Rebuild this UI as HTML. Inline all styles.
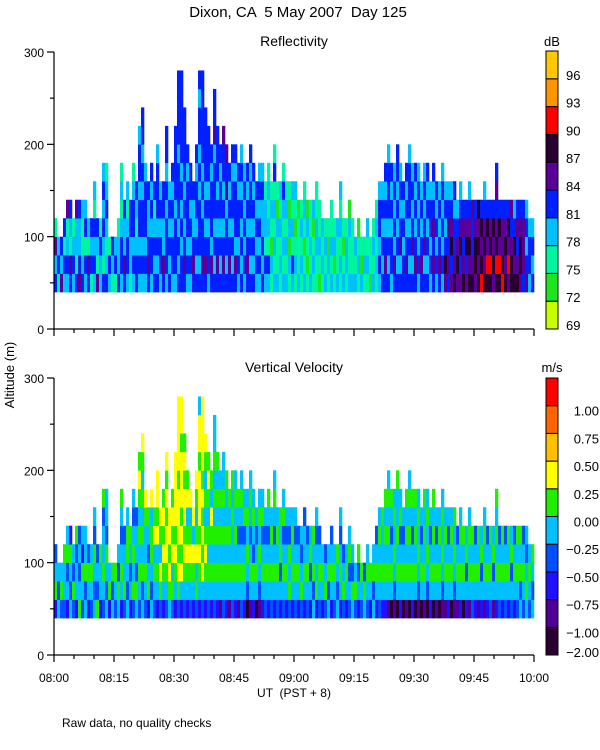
<!DOCTYPE html>
<html><head><meta charset="utf-8"><style>
body{margin:0;background:#fff;}
svg{display:block;font-family:"Liberation Sans",sans-serif;}
text{fill:#000;white-space:pre;}
</style></head><body>
<svg id="chart" width="600" height="750" viewBox="0 0 600 750" xmlns="http://www.w3.org/2000/svg" xml:space="preserve">
<text x="298" y="17" font-size="15" text-anchor="middle">Dixon, CA  5 May 2007  Day 125</text>
<text x="294" y="46" font-size="14" text-anchor="middle">Reflectivity</text>
<text x="294" y="372" font-size="14" text-anchor="middle">Vertical Velocity</text>
<text x="552" y="46" font-size="13" text-anchor="middle">dB</text>
<text x="552" y="372" font-size="13" text-anchor="middle">m/s</text>
<text transform="translate(14,375) rotate(-90)" font-size="13" text-anchor="middle">Altitude (m)</text>
<text x="294" y="697" font-size="12" text-anchor="middle">UT  (PST + 8)</text>
<text x="62" y="727" font-size="12">Raw data, no quality checks</text>
<g id="layer"></g>
</svg>
<script>
const timeLabels = ["08:00","08:15","08:30","08:45","09:00","09:15","09:30","09:45","10:00"];
const altTicks = [0,100,200,300];
const reflLabels = ["69","72","75","78","81","84","87","90","93","96"];
const velLabels = ["-2.00","-1.00","-0.75","-0.50","-0.25","0.00","0.25","0.50","0.75","1.00"];
const reflColors = ["#c8ff00","#1ee61e","#00f5a0","#00c0ff","#0020ff","#5a0096","#2a0030","#ff0000","#ff9600","#ffc800"];
const velColors = ["#2a0030","#500098","#2010ff","#0050ff","#00c0ff","#20f000","#ffff00","#ffc000","#ff6400","#ff0000"];
// each column: color-bin index per 20 m gate starting at 40 m (bottom up); string length = echo top
const reflCols = ["4352","243","534","3424","34325","45234","3432","42335","54334","43223",
"34243","4523","2434","343423","5234","3342","4234343","4323432","342","234",
"243","4332","3443232","45334","344323","23344","3434432","443234","343443443","3434434344",
"3434443","454334","3443434","434324","43434443","344343","453344","344434344","434343","3443434",
"344434444","434344434444","443434344444","4543434444","34344434","3434344","454334","43434434","434443434434","454434344444",
"4543434444","344343444","45344434","43434443544","454343444","43434434","454343445","43443545","4543434","43434434",
"45344434","3434434","43434343","3434343","4543434","43434434","4343434","343434","3434343","4343343",
"342332","3423232","231232","32323242","322312","232323","3232342","323232","231312","342323",
"232123","32221","23232","321232","21231","32322","23213","223322","12322","2323",
"3232","2312","32322","2132","3223","232323","3212","2332","32231","3222",
"323","2321","312","232","2323","122","3232","23232","343443","434343",
"4543434","43434443","3443434","4534343","43434344","4354343","443434","4543434","43434443","4354343",
"4543434","3434343","454343","4354343","4343434","343443","4545434","343434","454343","3434343",
"564343","454543","546543","654434","56543","546543","65454","54654","656543","65445",
"56654","65656","76564","656543","67564","67654","56564","6765454","67564","76554",
"65654","57564","66545","65643","65454","56654","45554","54343","3443","4343"];
const velCols = ["2543","434","354","3445","24354","43452","3534","24435","54343","34524",
"43544","2453","3454","434534","5343","2445","3454435","4345344","254","435",
"345","4534","2454345","35443","434554","24345","3545434","453443","345454565","4354545456",
"3454456","254345","4345546","345465","24546566","356456","2456565","345665656","456566","3546565",
"245656666","356566656666","246565666566","3456566565","24565465","3456546","245646","35465456","245656665664","346565656666",
"2456545456","345454565","24545645","34545454544","245454545","14545454","345454544","24545445","1454545","34544545",
"24545454","1454345","34543454","2454354","0345454","14543454","2453454","045434","1345454","2454354",
"345434","2454345","345454","24543454","345454","243545","3454354","245434","354534","245454",
"345434","24543","35434","245443","34543","24354","43545","254434","34543","2454",
"3543","4354","24543","3454","4345","245434","3543","2454","34354","4534",
"354","2435","345","453","3454","245","4354","24543","345454","245445",
"2454545","14545454","0454345","1345454","04545445","2454354","045434","1454545","04545454","2454345",
"0454545","1345454","045434","1454545","0345454","245434","0454545","145434","045454","1345454",
"145454","245434","045454","134545","14543","245454","04545","24354","145454","34545",
"24543","14545","24354","145454","24543","34545","14354","2454545","34543","24545",
"34543","24545","34354","24543","34545","43545","34543","45434","3454","4345"];

const NS = "http://www.w3.org/2000/svg";
const layer = document.getElementById('layer');
function mk(tag, attrs, parent){const e=document.createElementNS(NS,tag);for(const k in attrs)e.setAttribute(k,attrs[k]);(parent||layer).appendChild(e);return e;}
const X0=54, X1=534, TMIN=0, TMAX=120;
const xScale = m => X0 + (m-TMIN)/(TMAX-TMIN)*(X1-X0);
function yScaleFor(y0,y300){return a => y0 - a/300*(y0-y300);}

function panel(name, cols, colors, y0, y300, cbTop, cbBot, showX){
  const ys = yScaleFor(y0,y300);
  const g = mk('g',{});
  
  
  const n = cols.length, dt = (TMAX-TMIN)/n;
  cols.forEach((s,i)=>{
    const xa = xScale(i*dt), xb = xScale((i+1)*dt);
    for(let j=0;j<s.length;j++){
      const a0 = 40+20*j, a1 = a0+20;
      const r = mk('rect',{x:xa.toFixed(2),y:ys(a1).toFixed(2),width:(xb-xa+0.3).toFixed(2),height:(ys(a0)-ys(a1)+0.3).toFixed(2),fill:colors[+s[j]]},g);
      
      
    }
  });
  const ax = mk('g',{stroke:'#000','stroke-width':1.2,fill:'none'});
  
  
  mk('line',{x1:X0,y1:ys(300),x2:X0,y2:y0},ax);
  mk('line',{x1:X0,y1:y0,x2:X1,y2:y0},ax);
  for(let a=0;a<=300;a+=50){
    const major = a%100===0;
    mk('line',{x1:X0-(major?7:4),y1:ys(a),x2:X0,y2:ys(a)},ax);
  }
  altTicks.forEach(a=>{
    const t = mk('text',{x:X0-10,y:ys(a)+5,'font-size':12,'text-anchor':'end'});
    t.textContent = a;
    
    
  });
  for(let m=0;m<=120;m+=5){
    const major = m%15===0;
    mk('line',{x1:xScale(m),y1:y0,x2:xScale(m),y2:y0+(major?7:4)},ax);
  }
  if(showX){
    timeLabels.forEach((l,k)=>{
      const t = mk('text',{x:xScale(k*15),y:y0+27,'font-size':12,'text-anchor':'middle'});
      t.textContent = l;
      
      
    });
  }
  const cb = mk('g',{});
  
  
  const nb = colors.length, bh = (cbBot-cbTop)/nb;
  colors.forEach((c,k)=>{
    const yk = cbBot-(k+1)*bh;
    const r = mk('rect',{x:546,y:yk,width:12,height:bh,fill:c,stroke:'#000','stroke-width':1},cb);
    
    
  });
  return {ys,cb,bh};
}

const p1 = panel('reflectivity', reflCols, reflColors, 329, 52, 51, 329, false);
reflLabels.forEach((l,k)=>{
  const t = mk('text',{x:566,y:329-k*27.8+1,'font-size':13},p1.cb);
  t.textContent = l;
  
  
});
const p2 = panel('velocity', velCols, velColors, 655, 378, 378, 655, true);
velLabels.forEach((l,k)=>{
  const yy = k===0 ? 657 : 655 - k*27.7 + 10;
  const t = mk('text',{x:599,y:yy,'font-size':13,'text-anchor':'end'},p2.cb);
  t.textContent = l.replace('-','\u2212');
  
  
});
</script>
</body></html>
